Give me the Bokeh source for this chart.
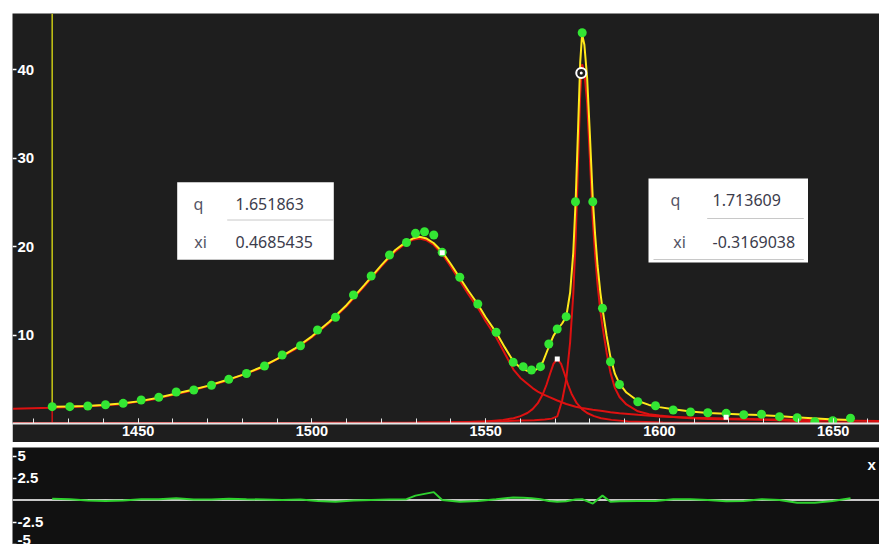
from bokeh.plotting import figure
from bokeh.models import Range1d, LinearAxis, FixedTicker, Span, Spacer, Label
from bokeh.layouts import column, row
from bokeh.core.properties import value
from bokeh.embed import file_html
from bokeh.resources import INLINE

# ---------------- data ----------------
# measured spectrum points
x_pts = [1425.25, 1430.32, 1435.50, 1440.59, 1445.68, 1450.86, 1455.93, 1460.94, 1466.00, 1471.09,
         1476.07, 1481.17, 1486.35, 1491.44, 1496.71, 1501.60, 1506.78, 1511.96, 1517.05, 1522.32,
         1527.21, 1529.80, 1532.39, 1535.06, 1537.48, 1542.55, 1547.73, 1553.02, 1557.91, 1560.79,
         1563.18, 1565.77, 1568.16, 1570.58, 1573.17, 1575.84, 1577.77, 1580.82, 1583.61, 1585.91,
         1588.50, 1593.77, 1598.86, 1603.96, 1608.94, 1613.91, 1619.21, 1624.27, 1629.37, 1634.55,
         1639.64, 1644.71, 1649.88, 1654.98]
y_pts = [1.90, 1.90, 1.98, 2.12, 2.28, 2.66, 2.96, 3.56, 3.79, 4.32,
         4.99, 5.65, 6.50, 7.74, 8.79, 10.56, 12.00, 14.52, 16.67, 19.04,
         20.45, 21.49, 21.67, 21.30, 19.34, 16.52, 13.50, 10.31, 6.92, 6.42,
         6.05, 6.42, 8.98, 10.68, 12.07, 25.06, 44.16, 25.06, 13.02, 6.98,
         4.41, 2.46, 2.01, 1.53, 1.30, 1.22, 1.15, 0.99, 1.04, 0.77,
         0.66, 0.20, 0.32, 0.59]
# residuals (data - fit)
resid = [0.15, 0.10, -0.05, -0.10, -0.05, 0.10, 0.10, 0.20, 0.05, 0.05,
         0.15, 0.10, 0.05, 0.00, 0.05, -0.10, -0.20, -0.05, 0.00, 0.05,
         0.10, 0.50, 0.70, 0.90, 0.00, -0.20, -0.10, 0.10, 0.30, 0.25,
         0.20, 0.10, -0.10, -0.20, -0.15, 0.05, 0.10, -0.40, 0.50, -0.20,
         -0.15, -0.10, -0.10, 0.10, 0.10, 0.00, -0.15, -0.10, 0.10, 0.00,
         -0.30, -0.30, -0.10, 0.20]

# total fit (yellow)
x_fit = [1425.25, 1430, 1435, 1440, 1445, 1450, 1455, 1460, 1465, 1470,
         1475, 1480, 1485, 1490, 1495, 1500, 1505, 1510, 1515, 1520,
         1524, 1527, 1529, 1531, 1533, 1535, 1537.5, 1540, 1542.5, 1545,
         1547.7, 1550, 1553, 1555.5, 1558, 1560, 1562, 1563.5, 1565, 1566.5,
         1568.2, 1569.5, 1570.6, 1572, 1573.2, 1574.3, 1575.2, 1575.9, 1576.6, 1577.2,
         1577.75, 1578.4, 1579.2, 1580, 1580.8, 1581.5, 1582.2, 1583, 1583.6, 1584.8,
         1585.9, 1587.2, 1588.5, 1590.5, 1593.8, 1597, 1600, 1604, 1609, 1614,
         1619, 1624, 1629, 1634, 1639, 1644, 1649, 1655]
y_fit = [1.88, 1.93, 1.99, 2.1, 2.25, 2.5, 2.85, 3.3, 3.75, 4.25,
         4.85, 5.5, 6.3, 7.3, 8.45, 9.85, 11.5, 13.4, 15.6, 17.9,
         19.6, 20.5, 20.9, 21.1, 20.9, 20.4, 19.4, 18.0, 16.5, 15.0,
         13.5, 12.0, 10.3, 8.6, 7.0, 6.3, 5.95, 5.9, 6.2, 7.0,
         8.7, 9.9, 10.6, 11.3, 12.1, 14.8, 19.3, 25.3, 33.5, 40.8,
         44.0, 42.8, 39.0, 32.5, 25.5, 21.3, 17.8, 14.8, 13.0, 9.9,
         7.5, 5.6, 4.5, 3.5, 2.55, 2.1, 1.85, 1.6, 1.35, 1.2,
         1.1, 1.02, 0.95, 0.85, 0.72, 0.58, 0.47, 0.4]

# fitted components (red)
x_c1 = [1414, 1425, 1435, 1445, 1455, 1465, 1475, 1485, 1495, 1500,
        1505, 1510, 1515, 1520, 1524, 1527, 1529, 1531, 1533, 1535,
        1537.5, 1540, 1542.5, 1545, 1547.7, 1550, 1553, 1555.5, 1558, 1560,
        1562, 1563.5, 1565, 1566.5, 1568.2, 1570.6, 1573.2, 1575.9, 1577.75, 1580.8,
        1583.6, 1585.9, 1588.5, 1593.8, 1600, 1610, 1620, 1630, 1640, 1650, 1664]
y_c1 = [1.66, 1.78, 1.92, 2.18, 2.78, 3.68, 4.77, 6.2, 8.34, 9.74,
        11.38, 13.27, 15.46, 17.75, 19.45, 20.35, 20.75, 20.9, 20.7, 20.2,
        19.15, 17.7, 16.15, 14.6, 13.1, 11.55, 9.75, 7.9, 6.1, 5.15,
        4.5, 4.0, 3.6, 3.3, 3.0, 2.6, 2.2, 1.9, 1.75, 1.55,
        1.4, 1.27, 1.15, 0.98, 0.8, 0.66, 0.56, 0.48, 0.41, 0.35, 0.29]
x_c2 = [1414, 1480, 1520, 1540, 1550, 1555, 1558, 1560, 1562, 1563.5,
        1565, 1566.5, 1567.5, 1568.5, 1569.5, 1570.6, 1571.7, 1572.7, 1573.7, 1574.7,
        1576.2, 1577.7, 1579.2, 1581.2, 1583.2, 1586.2, 1591, 1601, 1621, 1664]
y_c2 = [0.004, 0.013, 0.04, 0.11, 0.24, 0.41, 0.6, 0.83, 1.19, 1.63,
        2.3, 3.37, 4.38, 5.59, 6.73, 7.3, 6.73, 5.59, 4.38, 3.37,
        2.3, 1.63, 1.19, 0.83, 0.6, 0.41, 0.24, 0.11, 0.04, 0.013]
x_c3 = [1414, 1450, 1500, 1530, 1545, 1555, 1560, 1564, 1567, 1569,
        1570.6, 1572, 1573.2, 1574.3, 1575.2, 1575.9, 1576.6, 1577.2, 1577.75, 1578.4,
        1579.2, 1580, 1580.8, 1581.5, 1582.2, 1583, 1583.6, 1584.8, 1585.9, 1587.2,
        1588.5, 1590.5, 1593.8, 1597, 1600, 1604, 1609, 1614, 1619, 1624,
        1629, 1634, 1639, 1644, 1649, 1655, 1664]
y_c3 = [0.03, 0.05, 0.08, 0.12, 0.18, 0.25, 0.33, 0.38, 0.45, 0.55,
        0.8, 2.6, 5.0, 9.2, 14.6, 21.0, 29.6, 37.2, 40.6, 39.7,
        36.2, 29.8, 23.1, 19.0, 15.6, 12.7, 11.0, 8.0, 5.75, 4.0,
        3.0, 2.15, 1.38, 1.05, 0.91, 0.73, 0.59, 0.51, 0.48, 0.45,
        0.43, 0.36, 0.28, 0.17, 0.09, 0.06, 0.04]

# component centre markers and the selected point
peak_x = [1537.5, 1570.6, 1619.2]
peak_y = [19.3, 7.3, 0.7]
sel_x = [1577.5]
sel_y = [39.6]

# parameter tables
param_names = ["q", "xi"]
params_left = ["1.651863", "0.4685435"]
params_right = ["1.713609", "-0.3169038"]

# ticks
x_major_ticks = [1450, 1500, 1550, 1600, 1650]
x_minor_ticks = list(range(1420, 1661, 10))
y_top_ticks = [10, 20, 30, 40]
y_res_ticks = [-5, -2.5, 2.5, 5]
y_res_labels = {-5: "-5", -2.5: "-2.5", 2.5: "2.5", 5: "5"}

# ---------------- layout constants ----------------
FRAME_W = 867
PX_PER_X = 3.475
X_START = 1413.83
X_END = X_START + FRAME_W / PX_PER_X
TOP_FRAME_H = 410
Y_TOP = 46.33
BOT_H = 97
R_TOP = 5.97
R_BOT = R_TOP - BOT_H / 8.8

def px_x(px):
    return X_START + (px - 12) / PX_PER_X

def px_y(py):
    return (423 - py) * Y_TOP / TOP_FRAME_H

def pb_y(py):
    return R_TOP - (py - 447) * (R_TOP - R_BOT) / BOT_H

BG = "#1e1e1e"
BG2 = "#111111"
FONT = "Liberation Sans"

top = figure(width=FRAME_W, height=TOP_FRAME_H + 19,
             x_range=Range1d(X_START, X_END), y_range=Range1d(0, Y_TOP),
             output_backend="svg", toolbar_location=None, y_axis_location=None,
             min_border_left=0, min_border_right=0, min_border_top=0, min_border_bottom=19,
             background_fill_color=BG, border_fill_color=BG, outline_line_color=None)
top.xgrid.visible = False
top.ygrid.visible = False

xa = top.xaxis[0]
xa.ticker = FixedTicker(ticks=x_major_ticks, minor_ticks=x_minor_ticks)
xa.axis_line_color = "#e6e6e6"
xa.axis_line_width = 2
xa.major_tick_in = 5
xa.major_tick_out = 0
xa.minor_tick_in = 5
xa.minor_tick_out = 0
xa.major_tick_line_color = "#e6e6e6"
xa.minor_tick_line_color = "#e6e6e6"
xa.major_label_text_color = "white"
xa.major_label_text_font = FONT
xa.major_label_text_font_style = "bold"
xa.major_label_text_font_size = "14.5px"
xa.major_label_standoff = 2

ya = LinearAxis(fixed_location=X_START, ticker=FixedTicker(ticks=y_top_ticks),
                axis_line_color=None, major_tick_in=0, major_tick_out=4,
                major_tick_line_color="white", major_tick_line_width=1.5,
                minor_tick_line_color=None, major_label_standoff=1,
                major_label_text_color="white", major_label_text_font=FONT,
                major_label_text_font_style="bold", major_label_text_font_size="15px")
top.add_layout(ya, "right")

# range marker at first data point
top.segment(x0=[x_pts[0]], y0=[y_fit[0]], x1=[x_pts[0]], y1=[Y_TOP], line_color="#c8c814", line_width=1.5)
top.segment(x0=[x_pts[0]], y0=[0], x1=[x_pts[0]], y1=[y_fit[0]], line_color="#d01010", line_width=1.5)

for xs, ys in ((x_c1, y_c1), (x_c2, y_c2), (x_c3, y_c3)):
    top.line(xs, ys, line_color="#dd1111", line_width=2)
top.line(x_fit, y_fit, line_color="#ffe81a", line_width=2)
top.scatter(x_pts, y_pts, size=9, fill_color="#33e633", line_color=None)
top.scatter(peak_x, peak_y, marker="square", size=5, fill_color="white", line_color=None)
top.scatter(sel_x, sel_y, marker="circle", size=10, fill_color=BG, line_color="white", line_width=2)
top.scatter(sel_x, sel_y, marker="circle", size=3, fill_color="white", line_color=None)

# parameter tables
top.quad(left=[px_x(176.7), px_x(648)], right=[px_x(333.3), px_x(807.5)],
         top=[px_y(181.7), px_y(178)], bottom=[px_y(259.3), px_y(262)],
         fill_color="white", line_color=None)
top.segment(x0=[px_x(226.7), px_x(706.7), px_x(653)],
            y0=[px_y(219.5), px_y(218), px_y(259)],
            x1=[px_x(333.3), px_x(803.3), px_x(803.3)],
            y1=[px_y(219.5), px_y(218), px_y(259)],
            line_color="#c8c8c8", line_width=1)
TFONT = value("Noto Sans")
top.text(x=[px_x(198), px_x(200), px_x(675), px_x(679)],
         y=[px_y(203.5), px_y(241.5), px_y(199.5), px_y(241.5)],
         text=[param_names[0], param_names[1], param_names[0], param_names[1]],
         text_font=TFONT, text_font_size="16px", text_color="#555566",
         text_align="center", text_baseline="middle")
top.text(x=[px_x(235), px_x(235), px_x(712), px_x(712)],
         y=[px_y(203.5), px_y(241.5), px_y(199.5), px_y(241.5)],
         text=[params_left[0], params_left[1], params_right[0], params_right[1]],
         text_font=TFONT, text_font_size="16px", text_color="#3c3c4c",
         text_align="left", text_baseline="middle")

# ---------------- residual panel ----------------
bot = figure(width=FRAME_W, height=BOT_H, x_range=top.x_range, y_range=Range1d(R_BOT, R_TOP),
             output_backend="svg", toolbar_location=None,
             x_axis_location=None, y_axis_location=None,
             min_border_left=0, min_border_right=0, min_border_top=0, min_border_bottom=0,
             background_fill_color=BG2, border_fill_color=BG2, outline_line_color=None)
bot.xgrid.visible = False
bot.ygrid.visible = False
bot.add_layout(Span(location=0, dimension="width", line_color="#c8c8c8", line_width=2, level="underlay"))
bot.line(x_pts, resid, line_color="#2fd12f", line_width=2)

ra = LinearAxis(fixed_location=X_START, ticker=FixedTicker(ticks=y_res_ticks),
                major_label_overrides=y_res_labels,
                axis_line_color=None, major_tick_in=0, major_tick_out=4,
                major_tick_line_color="white", major_tick_line_width=1.5,
                minor_tick_line_color=None, major_label_standoff=1,
                major_label_text_color="white", major_label_text_font=FONT,
                major_label_text_font_style="bold", major_label_text_font_size="15px")
bot.add_layout(ra, "right")
bot.add_layout(Label(x=px_x(867), y=pb_y(464), text="x", text_color="white",
                     text_font=FONT, text_font_style="bold", text_font_size="15px",
                     text_baseline="middle", text_align="left"))

layout = column(Spacer(height=13),
                row(Spacer(width=12), column(top, Spacer(height=5), bot)))

open("out.html", "w").write(file_html(layout, INLINE))
